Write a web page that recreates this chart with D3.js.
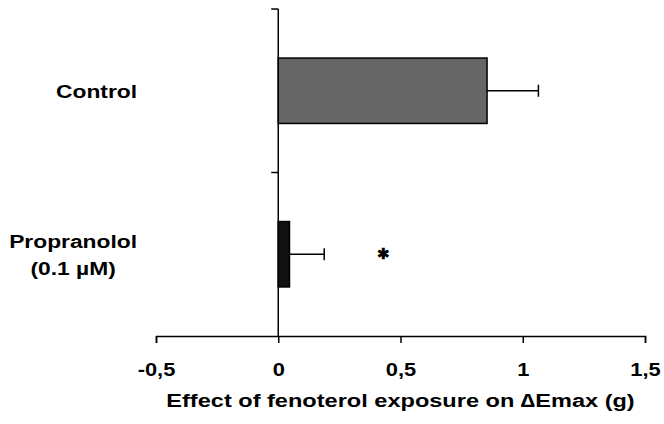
<!DOCTYPE html>
<html>
<head>
<meta charset="utf-8">
<script src="https://cdn.jsdelivr.net/npm/d3@7"></script>
<style>
  body { margin: 0; background: #fff; }
  text { font-family: "Liberation Sans", Arial, sans-serif; font-weight: bold; fill: #000; }
</style>
</head>
<body>
<div id="chart"></div>
<script>
// values
const groups = ["Control", "Propranolol"];
const groupLabels = [["Control"], ["Propranolol", "(0.1 µM)"]];
const means = [0.854, 0.046];
const errors = [0.21, 0.142];
const fills = ["#666666", "#111111"];
const xTicks = [-0.5, 0, 0.5, 1, 1.5];
const xTickLabels = ["-0,5", "0", "0,5", "1", "1,5"];
const sigMark = { group: "Propranolol", x: 0.43, label: "\u2731" };
const xTitle = "Effect of fenoterol exposure on \u2206Emax (g)";

function init() {
    const width = 664, height = 424;

    const svg = d3.select("#chart").append("svg")
        .attr("width", width)
        .attr("height", height);

    const x = d3.scaleLinear()
        .domain([-0.5, 1.5])
        .range([156, 645]);

    const y = d3.scaleBand()
        .domain(groups)
        .range([9, 336])
        .paddingInner(0.6)
        .paddingOuter(0.3);

    // bars
    svg.append("g")
        .selectAll("rect")
        .data(groups)
        .enter().append("rect")
          .attr("x", x(0))
          .attr("y", d => y(d))
          .attr("width", (d, i) => x(means[i]) - x(0))
          .attr("height", y.bandwidth())
          .attr("fill", (d, i) => fills[i])
          .attr("stroke", "#000")
          .attr("stroke-width", 1.5);

    // error bars
    const err = svg.append("g").attr("stroke", "#000").attr("stroke-width", 1.5);
    groups.forEach(function(g, i) {
        const cy = y(g) + y.bandwidth() / 2;
        err.append("line")
            .attr("x1", x(means[i])).attr("x2", x(means[i] + errors[i]))
            .attr("y1", cy).attr("y2", cy);
        err.append("line")
            .attr("x1", x(means[i] + errors[i])).attr("x2", x(means[i] + errors[i]))
            .attr("y1", cy - 6).attr("y2", cy + 6);
    });

    // x axis
    const xAxis = svg.append("g")
        .attr("transform", "translate(0,336)")
        .call(d3.axisBottom(x)
            .tickValues(xTicks)
            .tickFormat((d, i) => xTickLabels[i])
            .tickSize(7)
            .tickSizeOuter(7)
            .tickPadding(20));
    xAxis.select(".domain").attr("stroke-width", 1.5);
    xAxis.selectAll(".tick line").attr("stroke-width", 1.5);
    xAxis.selectAll(".tick text")
        .attr("font-size", 19)
        .attr("font-family", null)
        .attr("transform", "scale(1.15,1)");

    // y axis, ticks at the top and between the bands
    const yAxis = svg.append("g").attr("stroke", "#000").attr("stroke-width", 1.5);
    yAxis.append("line")
        .attr("x1", x(0)).attr("x2", x(0))
        .attr("y1", y.range()[0]).attr("y2", y.range()[1]);
    const yTickPos = [y.range()[0]];
    for (let i = 1; i < groups.length; i++) {
        yTickPos.push((y(groups[i - 1]) + y.bandwidth() + y(groups[i])) / 2);
    }
    yTickPos.forEach(function(p) {
        yAxis.append("line")
            .attr("x1", x(0) - 7).attr("x2", x(0))
            .attr("y1", p).attr("y2", p);
    });

    // category labels, right aligned block with lines centred inside it
    const labelRight = 137;
    groups.forEach(function(g, i) {
        const lines = groupLabels[i];
        const cy = y(g) + y.bandwidth() / 2;
        const lh = 27;
        const first = cy + 7 - (lines.length - 1) * lh / 2;
        const lg = svg.append("g")
            .attr("transform", `translate(${labelRight},0) scale(1.2,1)`);
        const t = lg.append("text")
            .attr("font-size", 19)
            .attr("text-anchor", "middle");
        lines.forEach(function(s, j) {
            t.append("tspan").attr("x", 0).attr("y", first + j * lh).text(s);
        });
        const w = t.node().getBBox().width;
        t.selectAll("tspan").attr("x", -w / 2);
    });

    // significance mark
    svg.append("text")
        .attr("x", x(sigMark.x))
        .attr("y", y(sigMark.group) + y.bandwidth() / 2 - 1)
        .attr("font-family", "DejaVu Sans")
        .attr("font-size", 15)
        .attr("text-anchor", "middle")
        .attr("dominant-baseline", "central")
        .text(sigMark.label);

    // axis title
    svg.append("g")
        .attr("transform", `translate(${(x.range()[0] + x.range()[1]) / 2},407) scale(1.24,1)`)
        .append("text")
          .attr("font-size", 19)
          .attr("text-anchor", "middle")
          .text(xTitle);
}

init();
</script>
</body>
</html>
